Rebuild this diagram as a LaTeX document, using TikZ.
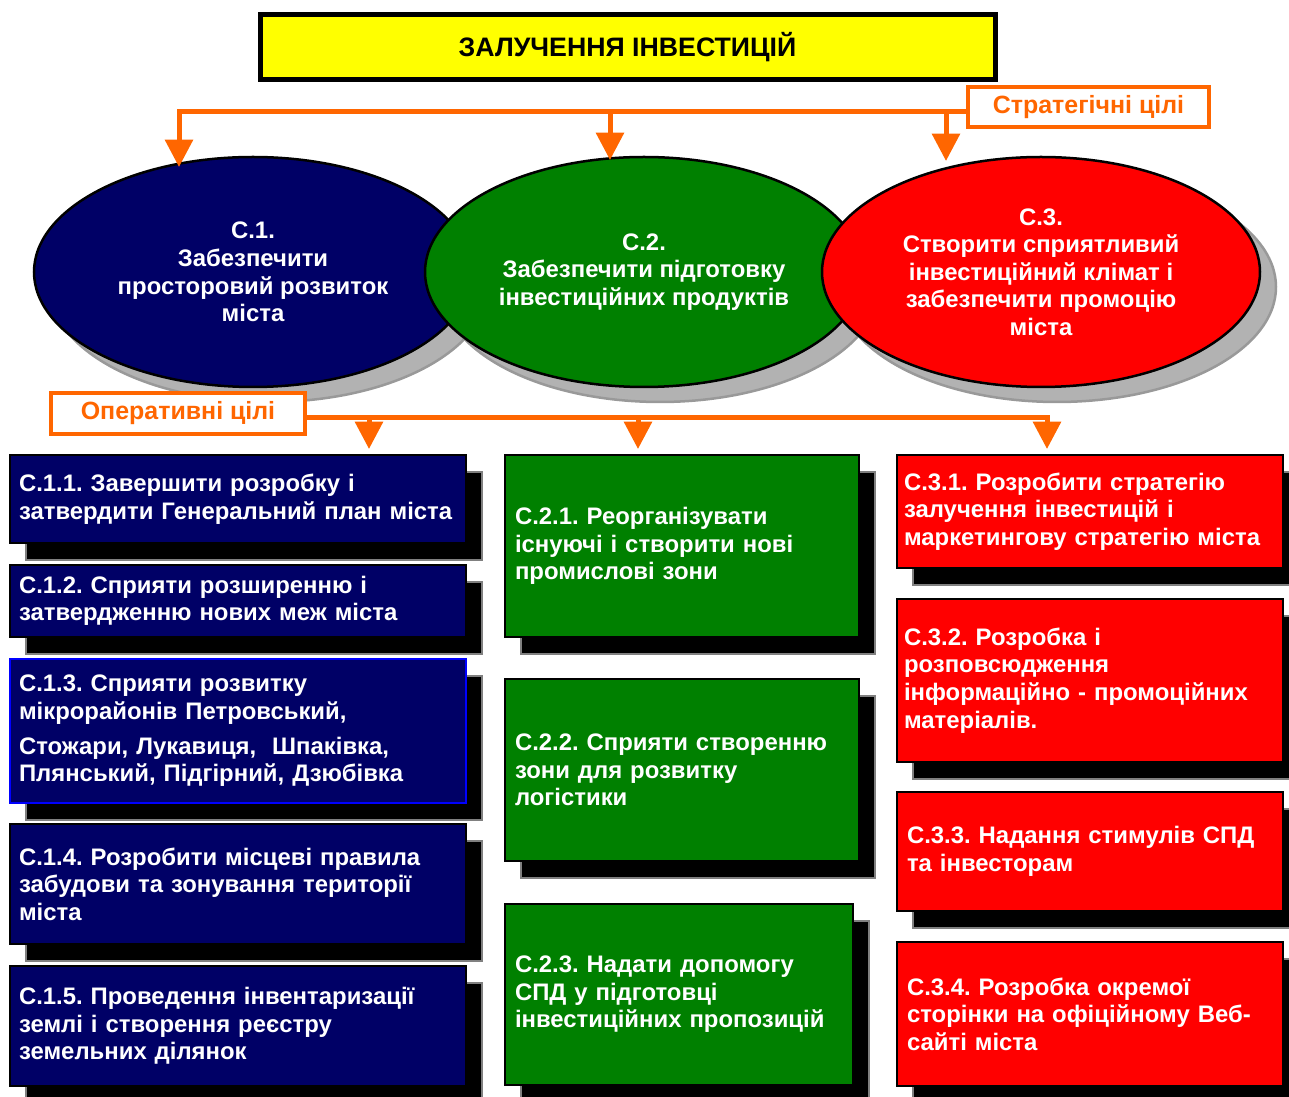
\documentclass[tikz,border=0pt]{standalone}
\usepackage{fontspec}
\setmainfont{Liberation Sans}
\usetikzlibrary{shapes.geometric,shadows,arrows.meta}

\newlength\ux
\setlength\ux{0.02cm}

\definecolor{navygoal}{HTML}{000066}
\definecolor{greengoal}{HTML}{008000}
\definecolor{redgoal}{HTML}{FF0000}
\definecolor{orangeflow}{HTML}{FF6600}
\definecolor{yellowhead}{HTML}{FFFF00}

\tikzset{
  every node/.style={font=\bfseries\fontsize{13.6}{15.7}\selectfont},
  goal/.style={ellipse, draw=black, line width=2.5\ux, text=white, align=center,
    minimum width=438\ux, minimum height=230\ux, inner sep=0pt,
    drop shadow={shadow xshift=16\ux, shadow yshift=-15\ux, fill=gray!60, draw=gray!80, opacity=1}},
  task/.style={rectangle, draw=black, line width=1.5\ux, text=white, align=left, inner ysep=0pt,
    drop shadow={shadow xshift=16\ux, shadow yshift=-17\ux, fill=black, draw=gray, opacity=1}},
  leftcol/.style={task, fill=navygoal, inner xsep=9\ux, text width=438\ux},
  midcol/.style={task, fill=greengoal, inner xsep=10\ux, text width=334\ux},
  rightcol/.style={task, fill=redgoal, inner xsep=7\ux, text width=372\ux},
  tagbox/.style={draw=orangeflow, line width=4.5\ux, fill=white, text=orangeflow,
    font=\bfseries\fontsize{14.2}{16}\selectfont, inner sep=0pt},
  flow/.style={draw=orangeflow, line width=5\ux, -{Triangle[length=15.6pt, width=15.6pt]}}
}

\begin{document}
\frenchspacing
\begin{tikzpicture}[x=0.02cm, y=-0.02cm]
  \useasboundingbox (0,0) rectangle (1289,1097);

  % heading
  \node[draw=black, line width=5\ux, fill=yellowhead, minimum width=735\ux, minimum height=65\ux,
    font=\bfseries\fontsize{15.2}{17}\selectfont] (title) at (627.5,47.5) {ЗАЛУЧЕННЯ ІНВЕСТИЦІЙ};

  % strategic goals
  \node[goal, fill=navygoal] (c1) at (253,272) {С.1.\\Забезпечити\\просторовий розвиток\\міста};
  \node[goal, fill=greengoal] (c2) at (644,272) {С.2.\\Забезпечити підготовку\\інвестиційних продуктів};
  \node[goal, fill=redgoal] (c3) at (1041,272) {С.3.\\Створити сприятливий\\інвестиційний клімат і\\забезпечити промоцію\\міста};

  \node[tagbox, minimum width=241\ux, minimum height=40\ux] (strat) at (1088.5,107) {Стратегічні цілі};
  \node[tagbox, minimum width=254\ux, minimum height=41\ux] (oper) at (178,413.5) {Оперативні цілі};

  % arrows to the goals
  \coordinate (t1) at (179,167);
  \coordinate (t2) at (610,160);
  \coordinate (t3) at (946,161);
  \draw[flow] ([yshift=-2.8pt]strat.west) -| (t1);
  \draw[flow] (t2 |- 0,112) -- (t2);
  \draw[flow] (t3 |- 0,112) -- (t3);

  \coordinate (u1) at (369,449);
  \coordinate (u2) at (638,449);
  \coordinate (u3) at (1047,449);
  \draw[flow] ([yshift=-2.3pt]oper.east) -| (u3);
  \draw[flow] (u1 |- 0,418) -- (u1);
  \draw[flow] (u2 |- 0,418) -- (u2);

  % operative goals, column 1
  \node[leftcol, minimum height=88\ux] (c11) at (238,499) {С.1.1. Завершити розробку і\\затвердити Генеральний план міста};
  \node[leftcol, minimum height=72\ux] (c12) at (238,601) {С.1.2. Сприяти розширенню і\\затвердженню нових меж міста};
  \node[leftcol, draw=blue, minimum height=144\ux] (c13) at (238,731) {С.1.3. Сприяти розвитку\\мікрорайонів Петровський,\\[4pt]Стожари, Лукавиця, \ Шпаківка,\\Плянський, Підгірний, Дзюбівка};
  \node[leftcol, minimum height=120\ux] (c14) at (238,884) {С.1.4. Розробити місцеві правила\\забудови та зонування території\\міста};
  \node[leftcol, minimum height=120\ux] (c15) at (238,1026) {С.1.5. Проведення інвентаризації\\землі і створення реєстру\\земельних ділянок};

  % column 2
  \node[midcol, minimum height=182\ux] (c21) at (682,546) {С.2.1. Реорганізувати\\існуючі і створити нові\\промислові зони};
  \node[midcol, minimum height=182\ux] (c22) at (682,770) {С.2.2. Сприяти створенню\\зони для розвитку\\логістики};
  \node[midcol, text width=328\ux, minimum height=181\ux] (c23) at (679,994.5) {С.2.3. Надати допомогу\\СПД у підготовці\\інвестиційних пропозицій};

  % column 3
  \node[rightcol, minimum height=113\ux] (c31) at (1090,511.5) {С.3.1. Розробити стратегію\\залучення інвестицій і\\маркетингову стратегію міста};
  \node[rightcol, minimum height=163\ux] (c32) at (1090,680.5) {С.3.2. Розробка і\\розповсюдження\\інформаційно - промоційних\\матеріалів.};
  \node[rightcol, inner xsep=10\ux, text width=366\ux, minimum height=119\ux] (c33) at (1090,851.5) {С.3.3. Надання стимулів СПД\\та інвесторам};
  \node[rightcol, inner xsep=10\ux, text width=366\ux, minimum height=144\ux] (c34) at (1090,1014) {С.3.4. Розробка окремої\\сторінки на офіційному Веб-\\сайті міста};
\end{tikzpicture}
\end{document}
